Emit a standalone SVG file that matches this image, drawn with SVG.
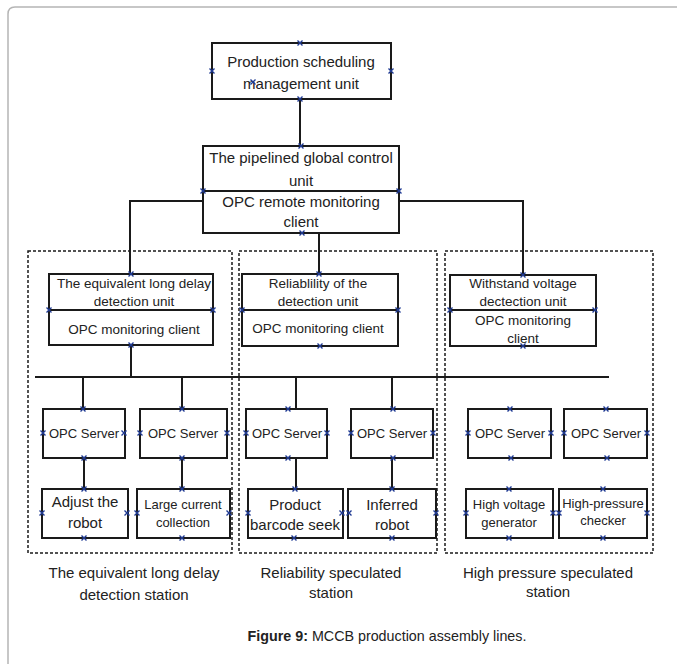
<svg xmlns="http://www.w3.org/2000/svg" width="677" height="664" viewBox="0 0 677 664">
<style>
.box{fill:#fff;stroke:#1a1a1a;stroke-width:2}
.dash{fill:none;stroke:#1a1a1a;stroke-width:1.5;stroke-dasharray:3 2}
.ln{fill:none;stroke:#1a1a1a;stroke-width:2}
text{font-family:"Liberation Sans",Arial,sans-serif;fill:#222;text-anchor:middle}
.t15{font-size:15px}
.t135{font-size:13.5px}
.t13{font-size:13px}
.lbl{font-size:15px}
.cap{font-size:14.3px}
.xm{stroke:#1f3a93;stroke-width:1.4;fill:none}
</style>
<defs>
<path id="x" class="xm" d="M-2.5,-2.5L2.5,2.5M-2.5,2.5L2.5,-2.5"/>
</defs>
<path d="M8,664V14Q8,7 15,7H677" fill="none" stroke="#b5b5b5" stroke-width="1.5"/>

<g id="stations">
<rect class="dash" x="28" y="251" width="204" height="302"/>
<rect class="dash" x="239" y="251" width="198" height="302"/>
<rect class="dash" x="445" y="251" width="208" height="302"/>
</g>

<g id="connectors">
<path class="ln" d="M300,99V146"/>
<path class="ln" d="M203,201H130V274"/>
<path class="ln" d="M399,201H523V275"/>
<path class="ln" d="M319,233V274"/>
<path class="ln" d="M131,345V377"/>
<path class="ln" d="M35,377H609"/>
<path class="ln" d="M83,377V409M182,377V409M296,377V409M392,377V409"/>
<path class="ln" d="M84,458V489M182,458V489M296,458V489M392,458V489"/>
</g>

<g id="production">
<rect class="box" x="212" y="43" width="179" height="56"/>
<text class="t15" x="301" y="67">Production scheduling</text>
<text class="t15" x="301" y="89">management unit</text>
</g>

<g id="global">
<rect class="box" x="203" y="146" width="196" height="87"/>
<path class="ln" d="M203,191H399"/>
<text class="t15" x="301" y="163">The pipelined global control</text>
<text class="t15" x="301" y="186">unit</text>
<text class="t15" x="301" y="207">OPC remote monitoring</text>
<text class="t15" x="301" y="227">client</text>
</g>

<g id="equivalent">
<rect class="box" x="49" y="274" width="164" height="71"/>
<path class="ln" d="M49,310H213"/>
<text class="t135" x="134" y="288">The equivalent long delay</text>
<text class="t135" x="134" y="306">detection unit</text>
<text class="t135" x="134" y="334">OPC monitoring client</text>
</g>

<g id="reliability">
<rect class="box" x="242" y="274" width="156" height="72"/>
<path class="ln" d="M242,310H398"/>
<text class="t135" x="318" y="288">Reliablility of the</text>
<text class="t135" x="318" y="306">detection unit</text>
<text class="t135" x="318" y="333">OPC monitoring client</text>
</g>

<g id="withstand">
<rect class="box" x="450" y="275" width="146" height="71"/>
<path class="ln" d="M450,310H596"/>
<text class="t135" x="523" y="288">Withstand voltage</text>
<text class="t135" x="523" y="306">dectection unit</text>
<text class="t135" x="523" y="325">OPC monitoring</text>
<text class="t135" x="523" y="343">client</text>
</g>

<g id="server1"><rect class="box" x="43" y="409" width="82" height="49"/><text class="t13" x="84" y="438">OPC Server</text></g>
<g id="server2"><rect class="box" x="140" y="409" width="87" height="49"/><text class="t13" x="183" y="438">OPC Server</text></g>
<g id="server3"><rect class="box" x="246" y="409" width="81" height="49"/><text class="t13" x="287" y="438">OPC Server</text></g>
<g id="server4"><rect class="box" x="351" y="409" width="82" height="49"/><text class="t13" x="392" y="438">OPC Server</text></g>
<g id="server5"><rect class="box" x="468" y="409" width="83" height="49"/><text class="t13" x="510" y="438">OPC Server</text></g>
<g id="server6"><rect class="box" x="564" y="409" width="83" height="49"/><text class="t13" x="606" y="438">OPC Server</text></g>

<g id="adjust"><rect class="box" x="42" y="489" width="86" height="49"/><text class="t15" x="85" y="507">Adjust the</text><text class="t15" x="85" y="528">robot</text></g>
<g id="large"><rect class="box" x="137" y="489" width="93" height="49"/><text class="t13" x="183" y="509">Large current</text><text class="t13" x="183" y="527">collection</text></g>
<g id="product"><rect class="box" x="248" y="489" width="95" height="49"/><text class="t15" x="295" y="510">Product</text><text class="t15" x="295" y="530">barcode seek</text></g>
<g id="inferred"><rect class="box" x="348" y="489" width="88" height="49"/><text class="t15" x="392" y="510">Inferred</text><text class="t15" x="392" y="530">robot</text></g>
<g id="hvgen"><rect class="box" x="466" y="489" width="87" height="49"/><text class="t13" x="509" y="509">High voltage</text><text class="t13" x="509" y="527">generator</text></g>
<g id="hpcheck"><rect class="box" x="559" y="489" width="88" height="49"/><text class="t13" x="603" y="508">High-pressure</text><text class="t13" x="603" y="525">checker</text></g>

<g id="marks">
<use href="#x" x="300" y="43"/><use href="#x" x="212" y="71"/><use href="#x" x="391" y="71"/><use href="#x" x="300" y="99"/><use href="#x" x="253" y="82"/>
<use href="#x" x="301" y="146"/><use href="#x" x="203" y="191"/><use href="#x" x="399" y="191"/><use href="#x" x="302" y="233"/>
<use href="#x" x="131" y="274"/><use href="#x" x="49" y="310"/><use href="#x" x="213" y="310"/><use href="#x" x="131" y="345"/>
<use href="#x" x="319" y="274"/><use href="#x" x="242" y="310"/><use href="#x" x="398" y="310"/><use href="#x" x="320" y="346"/>
<use href="#x" x="523" y="275"/><use href="#x" x="450" y="310"/><use href="#x" x="595" y="310"/><use href="#x" x="523" y="346"/>
<use href="#x" x="83" y="409"/><use href="#x" x="43" y="433"/><use href="#x" x="124" y="433"/><use href="#x" x="84" y="458"/>
<use href="#x" x="182" y="409"/><use href="#x" x="140" y="433"/><use href="#x" x="227" y="433"/><use href="#x" x="182" y="458"/>
<use href="#x" x="84" y="489"/><use href="#x" x="42" y="513"/><use href="#x" x="127" y="513"/><use href="#x" x="84" y="538"/>
<use href="#x" x="182" y="489"/><use href="#x" x="137" y="513"/><use href="#x" x="229" y="513"/><use href="#x" x="182" y="538"/>
<use href="#x" x="288" y="409"/><use href="#x" x="246" y="433"/><use href="#x" x="327" y="433"/><use href="#x" x="288" y="458"/>
<use href="#x" x="393" y="409"/><use href="#x" x="351" y="433"/><use href="#x" x="433" y="433"/><use href="#x" x="393" y="458"/>
<use href="#x" x="295" y="489"/><use href="#x" x="248" y="513"/><use href="#x" x="342" y="513"/><use href="#x" x="294" y="538"/>
<use href="#x" x="392" y="489"/><use href="#x" x="349" y="513"/><use href="#x" x="436" y="513"/><use href="#x" x="392" y="538"/>
<use href="#x" x="510" y="409"/><use href="#x" x="468" y="433"/><use href="#x" x="551" y="433"/><use href="#x" x="511" y="458"/>
<use href="#x" x="606" y="409"/><use href="#x" x="564" y="433"/><use href="#x" x="647" y="433"/><use href="#x" x="607" y="458"/>
<use href="#x" x="509" y="489"/><use href="#x" x="466" y="513"/><use href="#x" x="553" y="513"/><use href="#x" x="509" y="538"/>
<use href="#x" x="603" y="489"/><use href="#x" x="559" y="513"/><use href="#x" x="647" y="513"/><use href="#x" x="603" y="538"/>
</g>

<g id="labels">
<text class="lbl" x="134" y="578">The equivalent long delay</text>
<text class="lbl" x="134" y="600">detection station</text>
<text class="lbl" x="331" y="578">Reliability speculated</text>
<text class="lbl" x="331" y="598">station</text>
<text class="lbl" x="548" y="578">High pressure speculated</text>
<text class="lbl" x="548" y="597">station</text>
<text class="cap" x="387" y="641"><tspan font-weight="bold">Figure 9:</tspan> MCCB production assembly lines.</text>
</g>
</svg>
